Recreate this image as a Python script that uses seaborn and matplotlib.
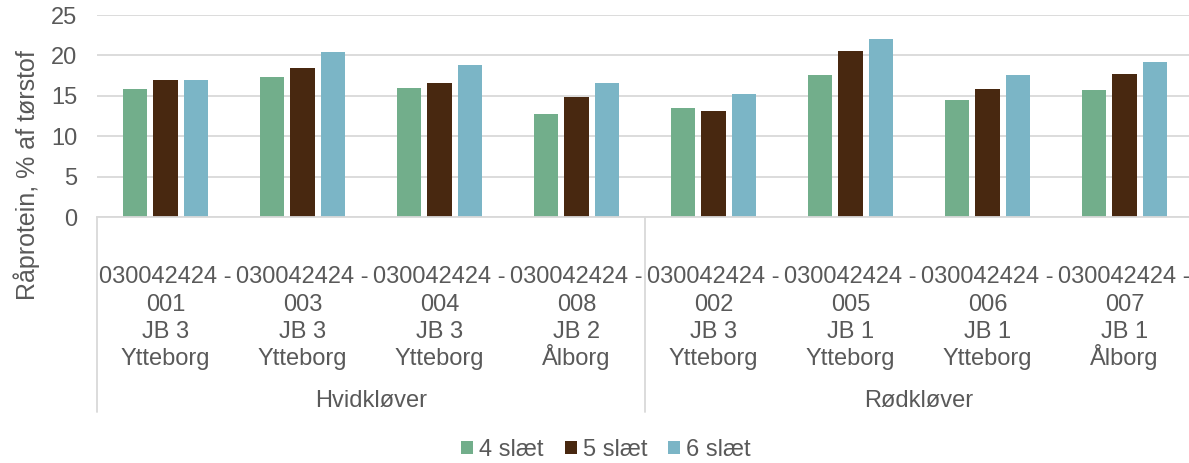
import pandas as pd
import seaborn as sns
import matplotlib.pyplot as plt
import matplotlib.transforms as mtransforms
from matplotlib.lines import Line2D

# data
prefix = '030042424 -'
numbers = ['001', '003', '004', '008', '002', '005', '006', '007']
soils = ['JB 3', 'JB 3', 'JB 3', 'JB 2', 'JB 3', 'JB 1', 'JB 1', 'JB 1']
places = ['Ytteborg', 'Ytteborg', 'Ytteborg', 'Ålborg', 'Ytteborg', 'Ytteborg', 'Ytteborg', 'Ålborg']
groups = ['Hvidkløver', 'Rødkløver']
series = ['4 slæt', '5 slæt', '6 slæt']
slaet4 = [15.9, 17.3, 16.0, 12.8, 13.5, 17.6, 14.5, 15.7]
slaet5 = [17.0, 18.5, 16.6, 14.8, 13.1, 20.5, 15.9, 17.7]
slaet6 = [17.0, 20.4, 18.8, 16.6, 15.2, 22.0, 17.6, 19.2]
colors = ['#72AE8B', '#482810', '#7BB5C6']

labels = [f'{n} {s} {p}' for n, s, p in zip(numbers, soils, places)]
df = pd.DataFrame({
    'label': labels * 3,
    'serie': [s for s in series for _ in labels],
    'value': slaet4 + slaet5 + slaet6,
})

sns.set_style('white')
plt.rcParams['font.family'] = ['Liberation Sans', 'DejaVu Sans']
txt = '#595959'
grid = '#D9D9D9'
W, H = 1189, 463

fig = plt.figure(figsize=(W / 100, H / 100), dpi=100)
ax = fig.add_axes([97 / W, 1 - 217 / H, (1193 - 97) / W, 202 / H])

sns.barplot(data=df, x='label', y='value', hue='serie', order=labels,
            hue_order=series, palette=colors, saturation=1, width=0.67,
            gap=0.21, ax=ax, linewidth=0)

handles, leg_labels = ax.get_legend_handles_labels()
ax.get_legend().remove()

ax.set_ylim(0, 25)
ax.set_xlim(-0.5, len(labels) - 0.5)
ax.set_yticks([0, 5, 10, 15, 20, 25])
ax.yaxis.grid(True, color=grid, linewidth=1.3)
ax.set_axisbelow(True)
for side in ['top', 'right', 'left']:
    ax.spines[side].set_visible(False)
ax.spines['bottom'].set_color(grid)
ax.spines['bottom'].set_linewidth(1.3)
ax.tick_params(axis='y', length=0, pad=14, labelsize=17, labelcolor=txt)
ax.set_xticks(range(len(labels)))
ax.set_xticklabels([])
ax.tick_params(axis='x', length=0)
ax.set_xlabel('')
ax.set_ylabel('Råprotein, % af tørstof', fontsize=18, color=txt)
ax.yaxis.set_label_coords(-0.052, 0.21)

# multi-level category labels under the axis
trans = mtransforms.blended_transform_factory(ax.transData, fig.transFigure)
baselines = [283, 311, 338, 365]
for i in range(len(labels)):
    lines = [prefix, numbers[i], soils[i], places[i]]
    for line, yb in zip(lines, baselines):
        fig.text(i, 1 - yb / H, line, transform=trans, ha='center',
                 va='baseline', fontsize=17, color=txt)

y_top = 1 - 217 / H
y_bot = 1 - 412 / H
for xpos in [-0.5, 3.5, 7.5]:
    fig.add_artist(Line2D([xpos, xpos], [y_top, y_bot], transform=trans,
                          color=grid, linewidth=1.3, clip_on=False))
for i, g in enumerate(groups):
    fig.text(1.5 + 4 * i, 1 - 407 / H, g, transform=trans, ha='center',
             va='baseline', fontsize=17, color=txt)

fig.legend(handles, leg_labels, loc='center', bbox_to_anchor=(606 / W, 1 - 450 / H),
           ncol=3, frameon=False, fontsize=17, handlelength=0.5,
           handleheight=0.5, handletextpad=0.25, columnspacing=0.9,
           labelcolor=txt)

fig.savefig('out.png', dpi=100)
